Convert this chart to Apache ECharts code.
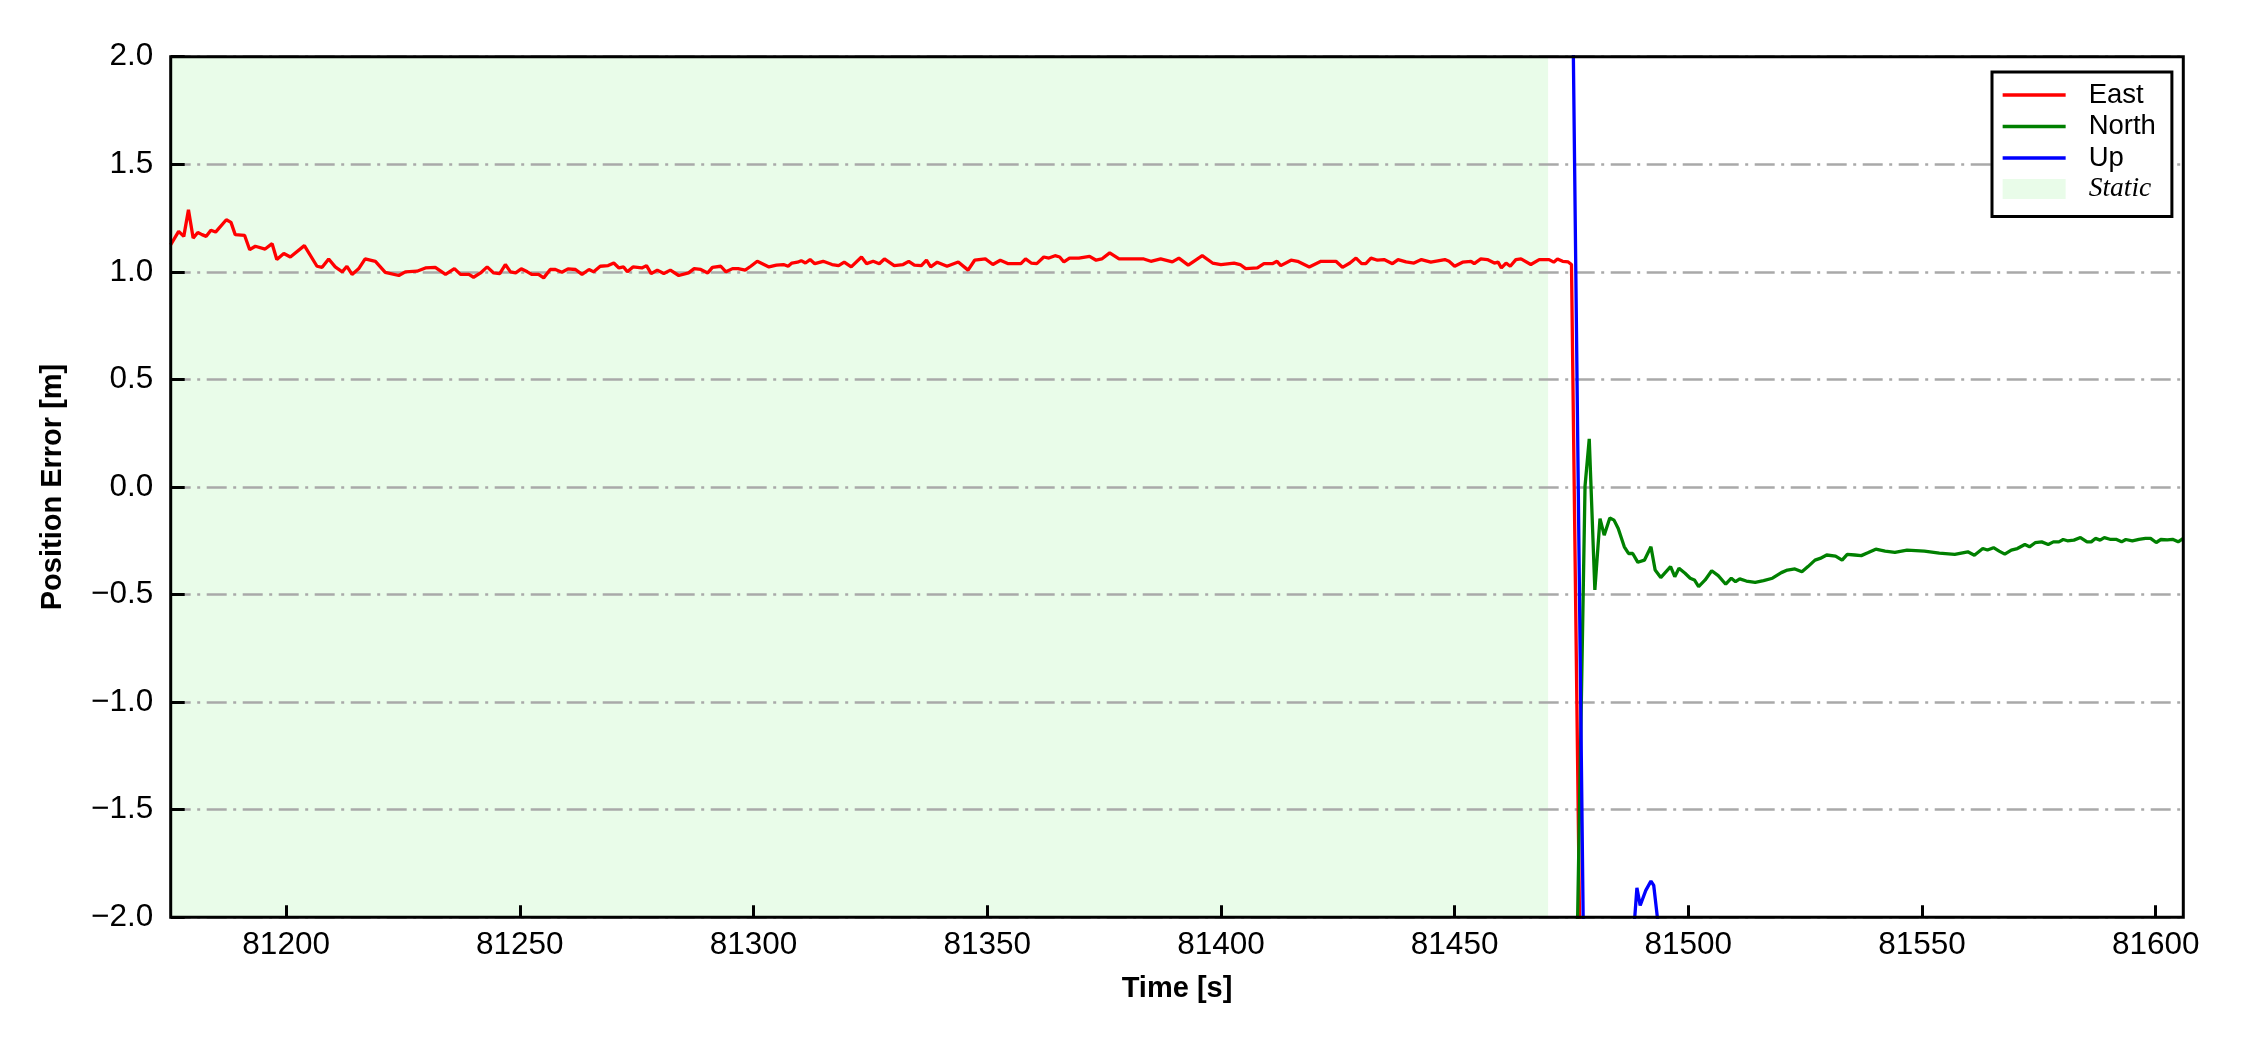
<!DOCTYPE html>
<html><head><meta charset="utf-8">
<script src="https://cdn.jsdelivr.net/npm/echarts@6/dist/echarts.min.js"></script>
<style>html,body{margin:0;padding:0;background:#fff}#c{width:2250px;height:1050px}</style>
</head><body><div id="c"></div>
<script>
// ---- axis ranges / ticks ----
const xMin = 81175.3, xMax = 81605.9, xSplit = 8;
const yMin = -2, yMax = 2, yStep = 0.5;
const staticSpan = [81175.3, 81470];

// ---- East ----
const eastT = [81175.3,81177.0,81178.1,81179.1,81180.1,81181.1,81182.0,81182.9,81183.9,81184.9,81187.2,81188.2,81189.1,81191.1,81192.2,81193.4,81195.5,81197.0,81198.0,81199.5,81200.9,81203.9,81206.6,81207.7,81209.1,81210.5,81212.0,81213.0,81214.1,81215.5,81216.9,81219.1,81221.2,81224.1,81225.5,81228.0,81229.8,81231.9,81234.1,81236.0,81237.3,81239.1,81240.1,81241.6,81243.0,81244.4,81245.7,81246.9,81248.0,81249.1,81250.3,81251.6,81252.6,81254.0,81255.1,81256.5,81257.6,81259.0,81260.3,81261.9,81263.3,81264.8,81265.8,
81267.2,81268.9,81270.1,81271.2,81272.2,81273.0,81274.2,81276.1,81277.1,81278.1,81279.4,81280.8,81282.2,81284.0,81286.1,81287.3,81288.7,81290.2,81291.2,81293.0,81294.1,81295.5,81296.7,81298.2,81299.4,81300.8,81303.3,81304.9,81306.4,81307.4,81308.2,81309.4,81310.2,81311.1,81312.1,81313.1,81314.9,81316.8,81318.2,81319.4,81320.9,81323.1,81324.2,81325.6,81326.9,81328.0,81330.1,81332.0,81333.2,81334.4,81335.9,81337.0,81337.9,81339.3,81341.4,81343.8,81345.9,81347.3,81349.6,81351.2,81352.8,81354.5,81357.2,81358.2,81359.4,81360.6,81362.1,81363.2,81364.5,81365.5,81366.4,81367.6,81369.6,81371.9,81373.3,81374.5,81376.2,81378.2,81380.7,81383.5,
81385.0,81387.1,81389.6,81391.0,81393.0,81394.2,81396.0,81398.2,81400.0,81402.8,81404.1,81405.3,81407.8,81409.2,81411.0,81412.0,81412.8,81415.0,81416.4,81418.9,81421.4,81424.6,81426.0,81427.6,81428.9,81430.1,81431.0,81432.1,81433.5,81434.9,81436.7,81437.9,81439.6,81441.3,81442.9,81444.9,81447.9,81448.8,81450.0,81451.7,81453.5,81454.2,81455.6,81457.0,81458.5,81459.3,81460.0,81461.0,81461.9,81463.1,81464.2,81466.3,81468.1,81470.2,81471.2,81472.0,81473.1,81474.3,81475.0,81477.0];
const eastV = [1.126,1.188,1.165,1.288,1.157,1.183,1.173,1.165,1.193,1.185,1.242,1.230,1.173,1.170,1.103,1.119,1.106,1.131,1.057,1.085,1.069,1.122,1.026,1.021,1.060,1.023,1.000,1.026,0.988,1.014,1.060,1.049,0.998,0.983,1.000,1.003,1.018,1.021,0.988,1.015,0.988,0.988,0.975,0.995,1.023,0.995,0.992,1.034,1.000,0.995,1.014,1.000,0.988,0.988,0.972,1.011,1.011,0.998,1.014,1.011,0.988,1.011,1.000,
1.026,1.029,1.041,1.018,1.023,1.000,1.023,1.018,1.029,0.992,1.008,0.992,1.008,0.983,0.995,1.015,1.011,0.995,1.021,1.026,1.000,1.015,1.015,1.008,1.026,1.049,1.023,1.031,1.034,1.026,1.041,1.045,1.052,1.041,1.057,1.038,1.049,1.034,1.029,1.045,1.023,1.069,1.038,1.049,1.038,1.060,1.029,1.034,1.049,1.031,1.029,1.054,1.023,1.045,1.026,1.046,1.008,1.054,1.060,1.034,1.054,1.038,1.038,1.060,1.041,1.038,1.069,1.064,1.075,1.069,1.046,1.064,1.064,1.072,1.054,1.060,1.088,1.060,1.060,1.060,
1.049,1.060,1.046,1.064,1.031,1.049,1.075,1.041,1.034,1.041,1.034,1.015,1.018,1.038,1.038,1.049,1.029,1.054,1.049,1.023,1.049,1.049,1.021,1.041,1.064,1.038,1.038,1.064,1.054,1.057,1.038,1.057,1.046,1.041,1.057,1.045,1.057,1.049,1.026,1.045,1.049,1.038,1.060,1.057,1.041,1.045,1.018,1.041,1.026,1.057,1.060,1.034,1.057,1.057,1.045,1.060,1.049,1.046,1.034,-2.5];

// ---- North ----
const northT = [81476.0,81477.9,81478.8,81480.0,81481.1,81482.0,81483.2,81484.1,81485.0,81486.3,81487.2,81488.1,81489.2,81490.6,81492.0,81492.9,81494.1,81496.2,81497.1,81498.0,81499.3,81500.4,81501.3,81502.2,81503.6,81505.0,81506.4,81508.0,81509.2,81510.1,81511.0,81512.4,81514.3,81516.1,81518.0,81519.9,81521.2,81522.8,81524.3,81525.6,81527.1,81528.2,81529.6,81531.5,81532.9,81534.0,81535.6,81537.0,81538.4,81540.1,81542.1,81544.2,81546.8,81550.5,81553.7,81557.0,81559.8,81561.2,81563.0,81564.0,81565.3,81566.5,81567.7,81569.1,81570.4,81572.0,81573.0,81574.2,81575.6,81577.0,81578.1,81579.3,81580.2,81581.1,81582.5,81583.9,81585.3,81586.2,81587.1,81588.1,81589.0,81590.2,81591.5,81592.7,81593.6,81595.0,81596.4,81597.8,81598.9,81600.1,81601.1,81602.5,81603.6,81604.8,81605.9];
const northV = [-2.4,0.004,0.224,-0.478,-0.147,-0.224,-0.144,-0.154,-0.193,-0.278,-0.309,-0.309,-0.350,-0.340,-0.278,-0.386,-0.421,-0.370,-0.417,-0.378,-0.401,-0.424,-0.432,-0.463,-0.432,-0.389,-0.412,-0.452,-0.424,-0.440,-0.427,-0.437,-0.443,-0.435,-0.424,-0.398,-0.386,-0.381,-0.394,-0.370,-0.340,-0.332,-0.316,-0.321,-0.340,-0.313,-0.316,-0.319,-0.306,-0.289,-0.298,-0.304,-0.293,-0.298,-0.307,-0.313,-0.301,-0.317,-0.286,-0.293,-0.282,-0.298,-0.312,-0.293,-0.286,-0.267,-0.278,-0.259,-0.255,-0.267,-0.255,-0.255,-0.244,-0.250,-0.247,-0.235,-0.255,-0.255,-0.239,-0.247,-0.235,-0.243,-0.243,-0.255,-0.244,-0.250,-0.243,-0.239,-0.239,-0.258,-0.244,-0.246,-0.243,-0.255,-0.239];

// ---- Up ----
const upT = [81475.3,81477.6,81488.2,81489.0,81489.7,81490.9,81492.0,81492.6,81493.9];
const upV = [2.2,-2.2,-2.1,-1.863,-1.945,-1.875,-1.832,-1.852,-2.1];

const pairs = (t, v) => t.map((x, i) => [x, v[i]]);
const FONT = 'Liberation Sans';
const STATIC_COLOR = '#e9fce9';
const LW = 3.3;

const chart = echarts.init(document.getElementById('c'), null, {renderer: 'canvas'});
const lineSeries = (name, t, v, color) => ({
  name, type: 'line', data: pairs(t, v), symbol: 'none', showSymbol: false,
  lineStyle: {color, width: LW}, itemStyle: {color}, z: 3, clip: true, animation: false
});
const legendText = {fontFamily: FONT, fontSize: 27.5, color: '#000', padding: [0, 0, 0, 18]};
const lineLegendItem = (name, color) => ({name, itemStyle: {opacity: 0, borderWidth: 0},
  lineStyle: {color, width: LW, opacity: 1}, textStyle: legendText});
chart.setOption({
  backgroundColor: '#fff',
  animation: false,
  grid: {left: 170.7, top: 56.7, right: 66.7, bottom: 132.7, show: true,
    borderColor: '#000', borderWidth: 3, backgroundColor: 'transparent', z: 4,
    containLabel: false, outerBoundsMode: 'none'},
  xAxis: {
    type: 'value', min: xMin, max: xMax, splitNumber: xSplit, z: 2,
    name: 'Time [s]', nameLocation: 'middle', nameGap: 57, nameMoveOverlap: false,
    nameTextStyle: {fontFamily: FONT, fontWeight: 'bold', fontSize: 29, color: '#000'},
    axisLine: {show: false, onZero: false},
    axisTick: {show: true, inside: true, length: 12, lineStyle: {color: '#000', width: 3}},
    axisLabel: {showMinLabel: false, showMaxLabel: false, margin: 12, fontFamily: FONT,
      fontSize: 31.5, color: '#000', formatter: v => String(v)},
    splitLine: {show: false}
  },
  yAxis: {
    type: 'value', min: yMin, max: yMax, interval: yStep, z: 2,
    name: 'Position Error [m]', nameLocation: 'middle', nameGap: 103, nameMoveOverlap: false,
    nameTextStyle: {fontFamily: FONT, fontWeight: 'bold', fontSize: 29, color: '#000'},
    axisLine: {show: false, onZero: false},
    axisTick: {show: true, inside: true, length: 14, lineStyle: {color: '#000', width: 3}},
    axisLabel: {margin: 17.5, fontFamily: FONT, fontSize: 31.5, color: '#000',
      showMinLabel: true, showMaxLabel: true,
      formatter: v => v.toFixed(1).replace('-', '\u2212')},
    splitLine: {show: true, lineStyle: {color: '#a9a9a9', width: 2.5, type: [20, 6.5, 3, 6.5]}}
  },
  legend: {
    orient: 'vertical', left: 1992, top: 72, z: 5,
    padding: [9, 16, 14, 9], itemWidth: 63, itemHeight: 20, itemGap: 3.5,
    backgroundColor: '#fff', borderColor: '#000', borderWidth: 3, borderRadius: 0,
    selectedMode: false,
    textStyle: legendText,
    data: [
      lineLegendItem('East', '#ff0000'), lineLegendItem('North', '#008000'), lineLegendItem('Up', '#0000ff'),
      {name: 'Static', icon: 'rect', itemStyle: {color: STATIC_COLOR, borderWidth: 0, opacity: 1},
        textStyle: {fontFamily: 'Liberation Serif', fontStyle: 'italic', fontSize: 27.5, color: '#000', padding: [0, 0, 0, 18]}}
    ]
  },
  series: [
    {name: 'Static', type: 'line', data: [], symbol: 'none', z: 1,
      itemStyle: {color: STATIC_COLOR}, lineStyle: {color: STATIC_COLOR},
      markArea: {silent: true, z: 1, itemStyle: {color: STATIC_COLOR, borderWidth: 0},
        data: [[{xAxis: staticSpan[0]}, {xAxis: staticSpan[1]}]]}},
    lineSeries('East', eastT, eastV, '#ff0000'),
    lineSeries('North', northT, northV, '#008000'),
    lineSeries('Up', upT, upV, '#0000ff')
  ]
});
</script></body></html>
